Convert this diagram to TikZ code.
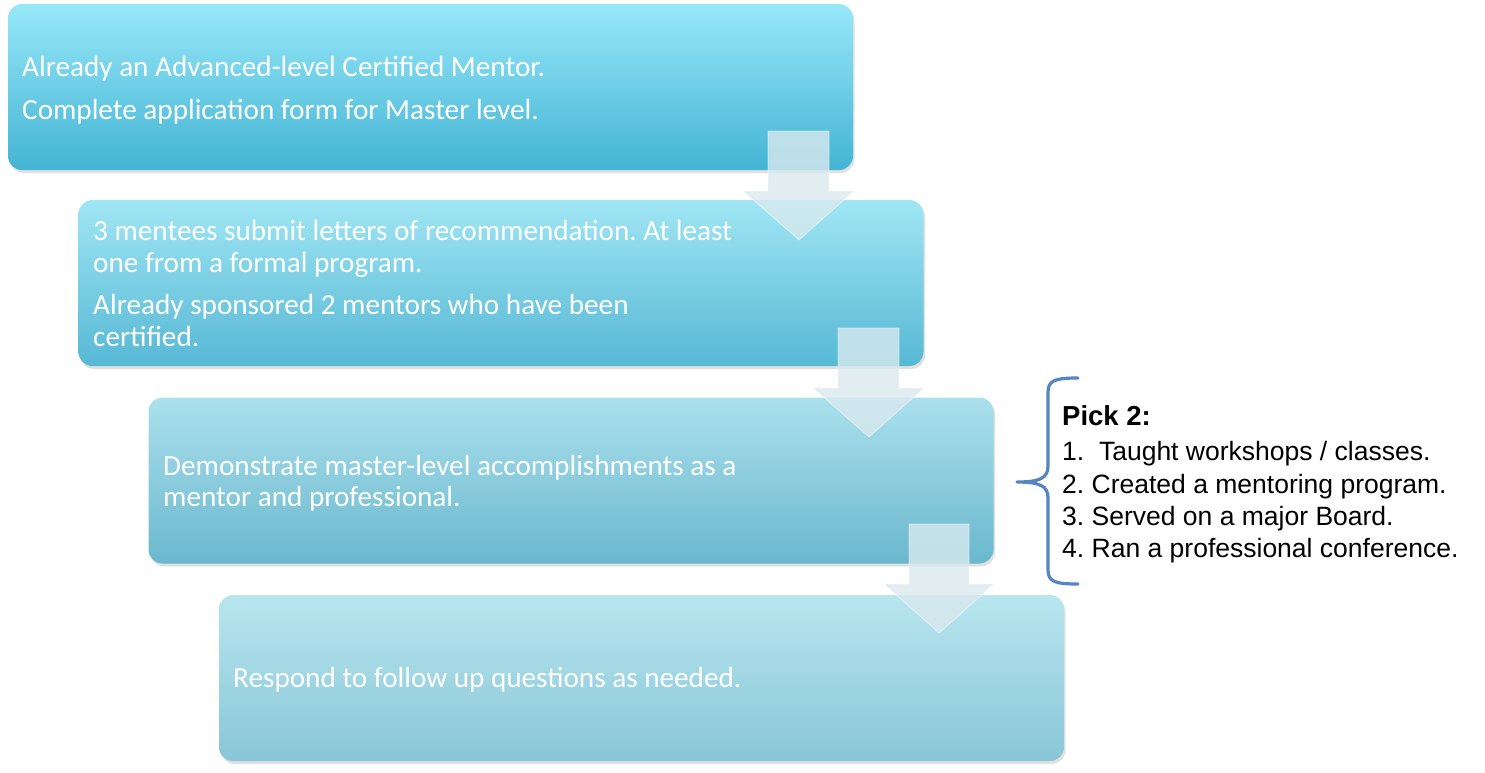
\documentclass[tikz,border=0pt]{standalone}
\usepackage{fontspec}
\setmainfont{Carlito}
\newfontfamily\arialf{Liberation Sans}
\frenchspacing
\usetikzlibrary{shadows}
\definecolor{bAt}{HTML}{97E8F8}\definecolor{bAb}{HTML}{44B4D4}
\definecolor{bBt}{HTML}{A0E6F4}\definecolor{bBb}{HTML}{57B8D4}
\definecolor{bCt}{HTML}{ABE0EC}\definecolor{bCb}{HTML}{6AB8CE}
\definecolor{bDt}{HTML}{B8E6EF}\definecolor{bDb}{HTML}{88C6D7}
\definecolor{arrowfill}{HTML}{D9E9EE}
\definecolor{bracecol}{HTML}{5585C2}
\tikzset{
  stepbox/.style={rounded corners=14pt, minimum width=845pt, minimum height=166pt, inner sep=0pt,
    drop shadow={shadow xshift=1.5pt, shadow yshift=-3pt, opacity=0.12, fill=black}},
  steptext/.style={anchor=base west, text=white, inner sep=0pt,
    font=\fontsize{29.2}{31}\selectfont},
  downarrow/.style={fill=arrowfill, fill opacity=0.8, draw=white, draw opacity=0.5, line width=0.8pt},
  listtext/.style={anchor=base west, inner sep=0pt, text=black,
    font=\arialf\fontsize{26.5}{32.5}\selectfont},
}
\begin{document}
\begin{tikzpicture}[x=1pt,y=-1pt]
\useasboundingbox (0,0) rectangle (1485,772);
% boxes
\node[stepbox, top color=bAt, bottom color=bAb] (b1) at (430.5,87) {};
\node[stepbox, top color=bBt, bottom color=bBb] (b2) at (501,283) {};
\node[stepbox, top color=bCt, bottom color=bCb] (b3) at (571,480.5) {};
\node[stepbox, top color=bDt, bottom color=bDb] (b4) at (641.5,678) {};
% texts
\node[steptext] (t1a) at (22,76) {Already an Advanced-level Certified Mentor.};
\node[steptext] (t1b) at (22,119) {Complete application form for Master level.};
\node[steptext] (t2a) at (93,240) {3 mentees submit letters of recommendation. At least};
\node[steptext] (t2b) at (93,272) {one from a formal program.};
\node[steptext] (t2c) at (93,314) {Already sponsored 2 mentors who have been};
\node[steptext] (t2d) at (93,346) {certified.};
\node[steptext] (t3a) at (163,475) {Demonstrate master-level accomplishments as a};
\node[steptext] (t3b) at (163,506) {mentor and professional.};
\node[steptext] (t4) at (233,687) {Respond to follow up questions as needed.};
% arrows
\draw[downarrow] (768,131) -- (829,131) -- (829,191) -- (854,191) -- (799,240) -- (743,191) -- (768,191) -- cycle;
\draw[downarrow] (838,328) -- (899,328) -- (899,388) -- (924,388) -- (869,437) -- (813,388) -- (838,388) -- cycle;
\draw[downarrow] (909,524) -- (969,524) -- (969,584) -- (994,584) -- (939,633) -- (884,584) -- (909,584) -- cycle;
% brace
\coordinate (brtop) at (1078,378);
\coordinate (brtip) at (1017,482);
\coordinate (brbot) at (1078,584);
\draw[bracecol, line width=3.2pt, line cap=round, line join=round]
  (brtop) .. controls (1056,378) and (1048,380) .. (1048,392)
  -- (1048,466) .. controls (1048,478) and (1040,482) .. (brtip)
  .. controls (1040,482) and (1048,486) .. (1048,498)
  -- (1048,570) .. controls (1048,582) and (1056,584) .. (brbot);
% list
\node[listtext, font=\arialf\bfseries\fontsize{27.5}{32.5}\selectfont] (pick) at (1062,425) {Pick 2:};
\node[listtext] (l1) at (1062,460) {1.\ \ Taught workshops / classes.};
\node[listtext] (l2) at (1062,493) {2. Created a mentoring program.};
\node[listtext] (l3) at (1062,525) {3. Served on a major Board.};
\node[listtext] (l4) at (1062,557) {4. Ran a professional conference.};
\end{tikzpicture}
\end{document}
